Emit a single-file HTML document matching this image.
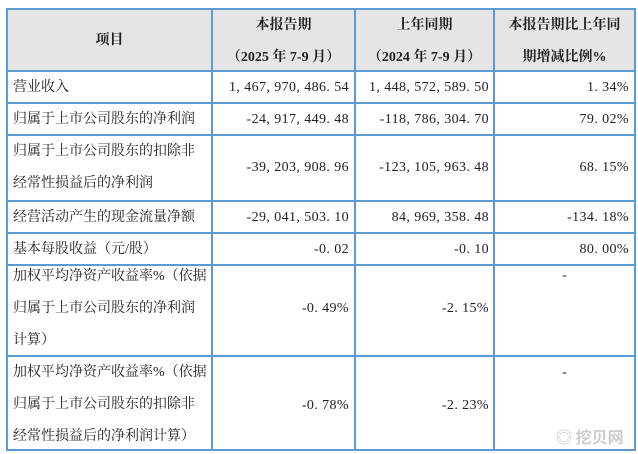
<!DOCTYPE html><html><head><meta charset="utf-8"><style>
body{margin:0;width:638px;height:454px;background:#fff;position:relative;overflow:hidden;font-family:"Liberation Serif","Noto Serif CJK SC",serif;font-size:14px;color:#222}
.h{position:absolute;left:6px;top:8px;width:629px;height:63px;background:#e5e5e5}
.l{position:absolute;background:#5b9bd5}
.t{position:absolute;white-space:nowrap;line-height:16px}
.n{letter-spacing:0.4px}
.b{font-weight:bold;font-family:"Liberation Serif","Noto Serif CJK SC",serif;font-size:14px}
.r{text-align:right}
.c{text-align:center}
</style></head><body>
<div class="h"></div>
<div class="l" style="left:6px;top:8px;width:630px;height:1.5px"></div>
<div class="l" style="left:6px;top:70px;width:630px;height:1.5px"></div>
<div class="l" style="left:6px;top:102px;width:630px;height:1.5px"></div>
<div class="l" style="left:6px;top:134px;width:630px;height:1.5px"></div>
<div class="l" style="left:6px;top:200px;width:630px;height:1.5px"></div>
<div class="l" style="left:6px;top:232px;width:630px;height:1.5px"></div>
<div class="l" style="left:6px;top:264px;width:630px;height:1.5px"></div>
<div class="l" style="left:6px;top:355px;width:630px;height:1.5px"></div>
<div class="l" style="left:6px;top:449px;width:630px;height:1.5px"></div>
<div class="l" style="left:6px;top:8px;width:1.5px;height:443px"></div>
<div class="l" style="left:211px;top:8px;width:1.5px;height:443px"></div>
<div class="l" style="left:354px;top:8px;width:1.5px;height:443px"></div>
<div class="l" style="left:493px;top:8px;width:1.5px;height:443px"></div>
<div class="l" style="left:634px;top:8px;width:1.5px;height:443px"></div>

<div class="t b c" style="left:8px;width:203px;top:33px">项目</div>
<div class="t b c" style="left:213px;width:141px;top:18px">本报告期</div>
<div class="t b c" style="left:213px;width:141px;top:50px">（2025 年 7-9 月）</div>
<div class="t b c" style="left:356px;width:137px;top:18px">上年同期</div>
<div class="t b c" style="left:356px;width:137px;top:50px">（2024 年 7-9 月）</div>
<div class="t b c" style="left:495px;width:139px;top:18px">本报告期比上年同</div>
<div class="t b c" style="left:495px;width:139px;top:50px">期增减比例%</div>

<div class="t" style="left:13px;top:80px">营业收入</div>
<div class="t r n" style="left:213px;width:136px;top:80px">1, 467, 970, 486. 54</div>
<div class="t r n" style="left:356px;width:133px;top:80px">1, 448, 572, 589. 50</div>
<div class="t r n" style="left:495px;width:134px;top:80px">1. 34%</div>

<div class="t" style="left:13px;top:112px">归属于上市公司股东的净利润</div>
<div class="t r n" style="left:213px;width:136px;top:112px">-24, 917, 449. 48</div>
<div class="t r n" style="left:356px;width:133px;top:112px">-118, 786, 304. 70</div>
<div class="t r n" style="left:495px;width:134px;top:112px">79. 02%</div>

<div class="t" style="left:13px;top:144px">归属于上市公司股东的扣除非</div>
<div class="t" style="left:13px;top:176px">经常性损益后的净利润</div>
<div class="t r n" style="left:213px;width:136px;top:160px">-39, 203, 908. 96</div>
<div class="t r n" style="left:356px;width:133px;top:160px">-123, 105, 963. 48</div>
<div class="t r n" style="left:495px;width:134px;top:160px">68. 15%</div>

<div class="t" style="left:13px;top:210px">经营活动产生的现金流量净额</div>
<div class="t r n" style="left:213px;width:136px;top:210px">-29, 041, 503. 10</div>
<div class="t r n" style="left:356px;width:133px;top:210px">84, 969, 358. 48</div>
<div class="t r n" style="left:495px;width:134px;top:210px">-134. 18%</div>

<div class="t" style="left:13px;top:242px">基本每股收益（元/股）</div>
<div class="t r n" style="left:213px;width:136px;top:242px">-0. 02</div>
<div class="t r n" style="left:356px;width:133px;top:242px">-0. 10</div>
<div class="t r n" style="left:495px;width:134px;top:242px">80. 00%</div>

<div class="t" style="left:13px;top:269px">加权平均净资产收益率%（依据</div>
<div class="t" style="left:13px;top:301px">归属于上市公司股东的净利润</div>
<div class="t" style="left:13px;top:333px">计算）</div>
<div class="t r n" style="left:213px;width:136px;top:301px">-0. 49%</div>
<div class="t r n" style="left:356px;width:133px;top:301px">-2. 15%</div>
<div class="t c" style="left:495px;width:139px;top:268px">-</div>

<div class="t" style="left:13px;top:365px">加权平均净资产收益率%（依据</div>
<div class="t" style="left:13px;top:397px">归属于上市公司股东的扣除非</div>
<div class="t" style="left:13px;top:429px">经常性损益后的净利润计算）</div>
<div class="t r n" style="left:213px;width:136px;top:398px">-0. 78%</div>
<div class="t r n" style="left:356px;width:133px;top:398px">-2. 23%</div>
<div class="t c" style="left:495px;width:139px;top:365px">-</div>

<div class="t" style="left:556px;top:428px;color:#ccc;font-family:'Noto Sans CJK SC',sans-serif;font-size:16px;font-weight:bold">◎ 挖贝网</div>
</body></html>
